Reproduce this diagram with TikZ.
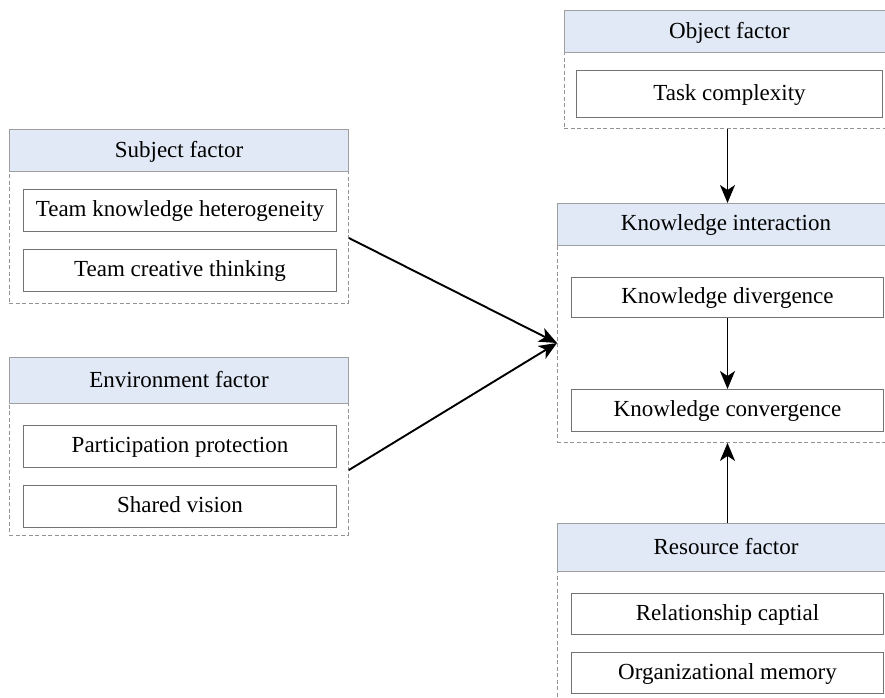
\documentclass[tikz,border=0pt]{standalone}
\usepackage{fontspec}
\setmainfont{Liberation Serif}
\usetikzlibrary{arrows.meta}
\definecolor{headblue}{RGB}{224,233,245}

\begin{document}
\begin{tikzpicture}[
  x=1pt, y=-1pt,
  every node/.style={font=\fontsize{23}{27}\selectfont, inner sep=0pt, anchor=north west},
  grp/.style={draw=gray!85, dashed, dash pattern=on 4pt off 2.5pt, line width=0.9pt},
  head/.style={draw=gray!75, fill=headblue, line width=1pt, text depth=0.3em},
  item/.style={draw=gray!90!black, fill=white, line width=1pt, text depth=0.3em},
  arr/.style={-{Stealth[length=18pt,width=15pt,inset=5pt]}, line width=1.9pt}]
\useasboundingbox (0,0) rectangle (885,697);
\clip (0,0) rectangle (885,697);

% subject factor
\node[grp, minimum width=339pt, minimum height=174pt] (subjgrp) at (9,129) {};
\node[head, minimum width=339pt, minimum height=42pt] (subjhead) at (9,129) {Subject factor};
\node[item, minimum width=313pt, minimum height=42pt] (heter) at (23,189) {Team knowledge heterogeneity};
\node[item, minimum width=313pt, minimum height=42pt] (think) at (23,249) {Team creative thinking};

% environment factor
\node[grp, minimum width=339pt, minimum height=178pt] (envgrp) at (9,357) {};
\node[head, minimum width=339pt, minimum height=46pt] (envhead) at (9,357) {Environment factor};
\node[item, minimum width=313pt, minimum height=42pt] (protect) at (23,425) {Participation protection};
\node[item, minimum width=313pt, minimum height=42pt] (vision) at (23,485) {Shared vision};

% object factor
\node[grp, minimum width=330pt, minimum height=118pt] (objgrp) at (564,10) {};
\node[head, minimum width=330pt, minimum height=42pt] (objhead) at (564,10) {Object factor};
\node[item, minimum width=306pt, minimum height=47pt] (task) at (576,70) {Task complexity};

% knowledge interaction
\node[grp, minimum width=337pt, minimum height=239pt] (kigrp) at (557,203) {};
\node[head, minimum width=337pt, minimum height=42pt] (kihead) at (557,203) {Knowledge interaction};
\node[item, minimum width=312pt, minimum height=40pt] (diverge) at (571,277) {Knowledge divergence};
\node[item, minimum width=312pt, minimum height=42pt] (converge) at (571,389) {Knowledge convergence};

% resource factor
\node[grp, minimum width=337pt, minimum height=190pt] (resgrp) at (557,523) {};
\node[head, minimum width=337pt, minimum height=48pt] (reshead) at (557,523) {Resource factor};
\node[item, minimum width=312pt, minimum height=41pt] (capital) at (571,593) {Relationship captial};
\node[item, minimum width=312pt, minimum height=41pt] (memory) at (571,652) {Organizational memory};

% connectors
\coordinate (meet) at (kigrp.west |- 0,343);
\draw[arr] ([yshift=-6pt]subjgrp.east |- heter.south) -- (meet);
\draw[arr] ([yshift=-2pt]envgrp.east |- protect.south) -- (meet);
\draw[arr] (objgrp.south -| diverge) -- (kihead.north -| diverge);
\draw[arr] (diverge) -- (converge);
\draw[arr] (reshead.north -| capital) -- (kigrp.south -| capital);
\end{tikzpicture}
\end{document}
